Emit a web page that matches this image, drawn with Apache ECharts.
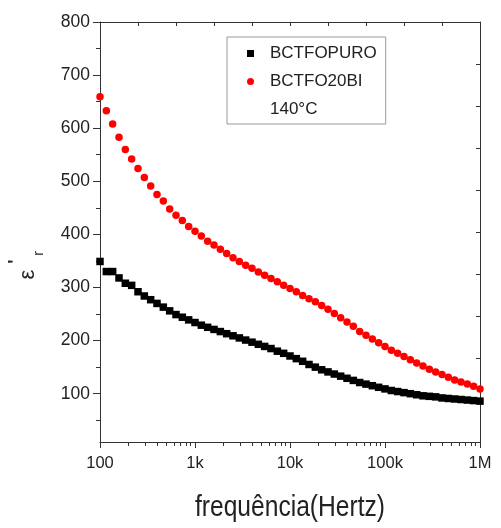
<!DOCTYPE html>
<html>
<head>
<meta charset="utf-8">
<script src="https://cdn.jsdelivr.net/npm/echarts@6/dist/echarts.min.js"></script>
<style>html,body{margin:0;padding:0;background:#fff;}#c{width:501px;height:528px;}</style>
</head>
<body>
<div id="c"></div>
<script>
// Frequencies (Hz) (about 15 points per decade)
const freq = [100,116.6,135.9,158.5,184.8,215.4,251.2,292.9,341.5,398.1,464.2,541.2,631,735.6,857.7,
  1000,1166,1359,1585,1848,2154,2512,2929,3415,3981,4642,5412,6310,7356,8577,
  10000,11660,13590,15850,18480,21540,25120,29290,34150,39810,46420,54120,63100,73560,85770,
  100000,116600,135900,158500,184800,215400,251200,292900,341500,398100,464200,541200,631000,735600,857700,
  1000000];
// BCTFOPURO (black squares)
const pure = [349,330,330,318,308,304,292,284,277,270,263,256,249,244,239,
  234,229,225,221,217,213,209,205,201,197,193,189,185,180,176,
  171,166,161,155,150,145,141,137,133,129,125,121,118,115,112,
  109,106,104,102,100,98,96,95,94,92,91,90,89,88,87,
  86];
// BCTFO20BI (red circles)
const bi = [659,633,608,583,560,542,524,507,491,475,463,448,436,426,415,
  406,397,387,380,372,364,356,349,342,336,329,323,317,311,304,
  298,292,285,279,273,266,259,251,243,235,227,217,210,203,196,
  189,182,176,170,164,158,152,146,141,136,131,126,122,118,114,
  109];
const seriesNames = ['BCTFOPURO', 'BCTFO20BI'];
const noteText = '140°C';
const xTickValues = [100, 1000, 10000, 100000, 1000000];
const xTickLabels = ['100', '1k', '10k', '100k', '1M'];
const xMinorMult = [2, 3, 4, 5, 6, 7, 8, 9];
const yTickValues = [100, 200, 300, 400, 500, 600, 700, 800];
const yMinorValues = [50, 150, 250, 350, 450, 550, 650, 750];
const xTitle = 'frequência(Hertz)';

const xMinor = [];
for (let d = 0; d < xTickValues.length - 1; d++) {
  xMinorMult.forEach(m => xMinor.push(xTickValues[d] * m));
}

const axisColor = '#333';
const textColor = '#222';
const font = '"Liberation Sans", Arial, sans-serif';
const chart = echarts.init(document.getElementById('c'));
const hidden = {show: false};
chart.setOption({
  animation: false,
  backgroundColor: '#fff',
  grid: {left: 100, right: 21, top: 22, bottom: 86},
  xAxis: [
    {type: 'log', logBase: 10, min: 100, max: 1000000, position: 'bottom',
     axisLine: {show: true, onZero: false, lineStyle: {color: axisColor, width: 1}},
     axisTick: {show: true, length: 6, customValues: xTickValues, lineStyle: {color: axisColor}},
     axisLabel: {customValues: xTickValues, formatter: v => xTickLabels[xTickValues.findIndex(t => Math.abs(t - v) / t < 1e-6)] || '',
       fontFamily: font, fontSize: 16.5, color: textColor, margin: 13},
     splitLine: hidden},
    {type: 'log', logBase: 10, min: 100, max: 1000000, position: 'bottom',
     axisLine: {show: false, onZero: false},
     axisTick: {show: true, length: 4, customValues: xMinor, lineStyle: {color: axisColor}},
     axisLabel: hidden, splitLine: hidden},
    {type: 'value', min: 0, max: 10, interval: 1, position: 'top',
     axisLine: {show: true, onZero: false, lineStyle: {color: axisColor, width: 1}},
     axisTick: {show: true, inside: true, length: 4, lineStyle: {color: axisColor}},
     axisLabel: hidden, splitLine: hidden}
  ],
  yAxis: [
    {type: 'value', min: 9, max: 800, position: 'left',
     axisLine: {show: true, onZero: false, lineStyle: {color: axisColor, width: 1}},
     axisTick: {show: true, length: 7, customValues: yTickValues, lineStyle: {color: axisColor}},
     axisLabel: {customValues: yTickValues, fontFamily: font, fontSize: 17.5, color: textColor, margin: 10},
     splitLine: hidden},
    {type: 'value', min: 9, max: 800, position: 'left',
     axisLine: {show: false, onZero: false},
     axisTick: {show: true, length: 4, customValues: yMinorValues, lineStyle: {color: axisColor}},
     axisLabel: hidden, splitLine: hidden},
    {type: 'value', min: 0, max: 10, interval: 1, position: 'right',
     axisLine: {show: true, onZero: false, lineStyle: {color: axisColor, width: 1}},
     axisTick: {show: true, inside: true, length: 4, lineStyle: {color: axisColor}},
     axisLabel: hidden, splitLine: hidden}
  ],
  legend: {
    left: 227, top: 37, orient: 'vertical', selectedMode: false,
    itemWidth: 7, itemHeight: 7, itemGap: 11, padding: [8, 9, 6, 20],
    borderColor: '#999', borderWidth: 1, backgroundColor: '#fff',
    textStyle: {fontFamily: font, fontSize: 17, color: textColor, padding: [0, 0, 0, 11]},
    data: [
      {name: seriesNames[0], icon: 'rect'},
      {name: seriesNames[1], icon: 'circle'},
      {name: noteText, icon: 'none'}
    ]
  },
  series: [
    {type: 'scatter', name: seriesNames[0], xAxisIndex: 0, yAxisIndex: 0,
     symbol: 'rect', symbolSize: 7.5, itemStyle: {color: '#000', opacity: 1},
     data: freq.map((f, i) => [f, pure[i]])},
    {type: 'scatter', name: seriesNames[1], xAxisIndex: 0, yAxisIndex: 0,
     symbol: 'circle', symbolSize: 7.5, itemStyle: {color: '#ff0000', opacity: 1},
     data: freq.map((f, i) => [f, bi[i]])},
    {type: 'scatter', name: noteText, xAxisIndex: 0, yAxisIndex: 0, data: [], itemStyle: {color: '#fff'}}
  ],
  graphic: [
    {type: 'text', x: 290, y: 508, scaleX: 0.82, style: {text: xTitle, fontSize: 30, fontFamily: font, fill: textColor, align: 'center', verticalAlign: 'middle'}},
    {type: 'text', x: 27.5, y: 274.5, rotation: Math.PI / 2, style: {text: 'ε', fontSize: 22, fontFamily: font, fill: textColor, align: 'center', verticalAlign: 'middle'}},
    {type: 'text', x: 16, y: 261.5, rotation: Math.PI / 2, style: {text: "'", fontSize: 18, fontFamily: font, fontWeight: 'bold', fill: textColor, align: 'center', verticalAlign: 'middle'}},
    {type: 'text', x: 39, y: 253.5, rotation: Math.PI / 2, style: {text: 'r', fontSize: 14, fontFamily: font, fill: textColor, align: 'center', verticalAlign: 'middle'}}
  ]
});
</script>
</body>
</html>
